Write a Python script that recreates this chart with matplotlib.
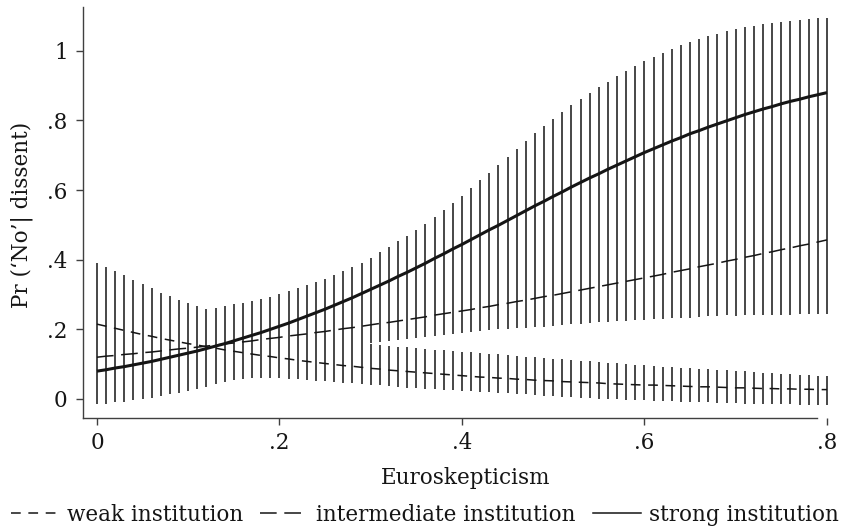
import numpy as np
import matplotlib
matplotlib.use("Agg")
import matplotlib.pyplot as plt
from matplotlib.lines import Line2D

# euroskepticism grid (81 evaluation points, step .01)
euro = np.round(np.arange(81) * 0.01, 2)

# predicted Pr('No' | dissent)
strong = [0.080, 0.084, 0.089, 0.093, 0.098, 0.103, 0.108, 0.114, 0.120, 0.126,
          0.132, 0.138, 0.145, 0.152, 0.159, 0.167, 0.175, 0.183, 0.191, 0.200,
          0.209, 0.218, 0.228, 0.238, 0.248, 0.258, 0.269, 0.280, 0.291, 0.303,
          0.315, 0.327, 0.339, 0.352, 0.364, 0.377, 0.390, 0.404, 0.417, 0.431,
          0.444, 0.458, 0.472, 0.486, 0.499, 0.513, 0.527, 0.541, 0.555, 0.568,
          0.582, 0.595, 0.609, 0.622, 0.635, 0.647, 0.660, 0.672, 0.684, 0.696,
          0.708, 0.719, 0.730, 0.741, 0.751, 0.762, 0.771, 0.781, 0.790, 0.799,
          0.808, 0.817, 0.825, 0.833, 0.840, 0.848, 0.855, 0.861, 0.868, 0.874,
          0.880]

intermediate = [0.120, 0.123, 0.125, 0.128, 0.130, 0.133, 0.135, 0.138, 0.141, 0.144,
                0.146, 0.149, 0.152, 0.155, 0.158, 0.161, 0.164, 0.167, 0.171, 0.174,
                0.177, 0.181, 0.184, 0.187, 0.191, 0.194, 0.198, 0.202, 0.205, 0.209,
                0.213, 0.217, 0.220, 0.224, 0.228, 0.232, 0.236, 0.241, 0.245, 0.249,
                0.253, 0.257, 0.262, 0.266, 0.271, 0.275, 0.280, 0.284, 0.289, 0.294,
                0.298, 0.303, 0.308, 0.313, 0.318, 0.323, 0.328, 0.333, 0.338, 0.343,
                0.348, 0.353, 0.358, 0.364, 0.369, 0.374, 0.380, 0.385, 0.390, 0.396,
                0.401, 0.407, 0.412, 0.418, 0.423, 0.429, 0.434, 0.440, 0.445, 0.451,
                0.457]

weak = [0.215, 0.209, 0.203, 0.197, 0.191, 0.185, 0.180, 0.174, 0.169, 0.164,
        0.159, 0.155, 0.150, 0.146, 0.141, 0.137, 0.133, 0.129, 0.125, 0.122,
        0.118, 0.115, 0.111, 0.108, 0.105, 0.102, 0.099, 0.096, 0.094, 0.091,
        0.088, 0.086, 0.083, 0.081, 0.079, 0.077, 0.075, 0.073, 0.071, 0.069,
        0.067, 0.065, 0.063, 0.062, 0.060, 0.059, 0.057, 0.056, 0.054, 0.053,
        0.052, 0.050, 0.049, 0.048, 0.047, 0.046, 0.044, 0.043, 0.042, 0.041,
        0.040, 0.040, 0.039, 0.038, 0.037, 0.036, 0.035, 0.035, 0.034, 0.033,
        0.032, 0.032, 0.031, 0.030, 0.030, 0.029, 0.029, 0.028, 0.028, 0.027,
        0.027]

# confidence intervals
strong_hw = [.095, .097, .099, .101, .102, .104, .105, .106, .107, .108,
             .109, .110, .110, .110, .108, .105, .102, .099, .096, .094,
             .092, .091, .090, .089, .088, .087, .087, .087, .088, .089,
             .091, .094, .098, .101, .105, .109, .114, .120, .126, .133,
             .140, .148, .156, .164, .173, .182, .191, .200, .208, .216,
             .223, .229, .235, .240, .244, .248, .251, .255, .258, .260,
             .262, .264, .265, .265, .265, .264, .263, .261, .259, .257,
             .254, .251, .247, .244, .240, .236, .232, .228, .224, .219,
             .215]

intermediate_hw = [.060, .060, .060, .059, .059, .059, .059, .058, .058, .058,
                   .058, .057, .057, .057, .056, .056, .056, .056, .055, .055,
                   .055, .055, .054, .054, .054, .054, .054, .053, .053, .053,
                   .053, .053, .054, .055, .056, .057, .058, .059, .060, .062,
                   .063, .065, .067, .069, .071, .074, .077, .080, .083, .086,
                   .089, .091, .094, .097, .100, .103, .106, .109, .113, .116,
                   .120, .124, .128, .132, .136, .140, .144, .148, .152, .156,
                   .162, .167, .172, .177, .182, .187, .192, .197, .202, .207,
                   .212]

weak_hi = [.390, .378, .367, .356, .343, .331, .318, .305, .295, .285,
           .276, .267, .259, .251, .243, .235, .228, .221, .214, .208,
           .202, .196, .191, .186, .181, .177, .173, .169, .165, .162,
           .158, .155, .153, .150, .148, .146, .144, .142, .140, .138,
           .136, .134, .132, .130, .128, .126, .124, .122, .120, .118,
           .116, .114, .112, .110, .108, .106, .104, .102, .100, .099,
           .097, .095, .093, .092, .090, .088, .087, .085, .084, .082,
           .081, .079, .078, .076, .075, .073, .072, .070, .069, .067,
           .066]

weak_lo = [.040, .040, .041, .041, .042, .042, .043, .043, .043, .044,
           .044, .044, .045, .045, .050, .055, .058, .059, .060, .060,
           .059, .058, .057, .055, .053, .051, .049, .047, .045, .043,
           .041, .039, .037, .035, .033, .031, .030, .028, .027, .025,
           .024, .022, .021, .019, .018, .016, .015, .013, .012, .010,
           .009, .007, .006, .004, .003, .001, .000, -.001, -.002, -.003,
           -.004, -.005, -.006, -.007, -.008, -.009, -.010, -.010, -.011, -.012,
           -.012, -.013, -.013, -.014, -.014, -.015, -.015, -.016, -.016, -.017,
           -.017]

xticks = [0, 0.2, 0.4, 0.6, 0.8]
xticklabels = ["0", ".2", ".4", ".6", ".8"]
yticks = [0, 0.2, 0.4, 0.6, 0.8, 1.0]
yticklabels = ["0", ".2", ".4", ".6", ".8", "1"]

plt.rcParams["font.family"] = "DejaVu Serif"
plt.rcParams["lines.scale_dashes"] = False

W, H = 845, 529
fs = 15.5
fig = plt.figure(figsize=(W / 100, H / 100), dpi=100)
ax = fig.add_axes([83 / W, (H - 418) / H, (836 - 83) / W, (418 - 7) / H])

ink = "#151515"

strong = np.array(strong)
intermediate = np.array(intermediate)
s_lo, s_hi = strong - np.array(strong_hw), strong + np.array(strong_hw)
i_lo, i_hi = intermediate - np.array(intermediate_hw), intermediate + np.array(intermediate_hw)

# the three sets of spikes overlap; merge them so joins don't show seams
seg_x, seg_lo, seg_hi = [], [], []
for k, x in enumerate(euro):
    spans = sorted([(weak_lo[k], weak_hi[k]), (i_lo[k], i_hi[k]), (s_lo[k], s_hi[k])])
    cur_lo, cur_hi = spans[0]
    for lo, hi in spans[1:]:
        if lo <= cur_hi:
            cur_hi = max(cur_hi, hi)
        else:
            seg_x.append(x); seg_lo.append(cur_lo); seg_hi.append(cur_hi)
            cur_lo, cur_hi = lo, hi
    seg_x.append(x); seg_lo.append(cur_lo); seg_hi.append(cur_hi)

ax.vlines(seg_x, seg_lo, seg_hi, color=ink, lw=1.1)

weak_style = (0, (7.0, 5.5))
inter_style = (0, (12.0, 5.5))

ax.plot(euro, weak, color=ink, lw=1.1, linestyle=weak_style)
ax.plot(euro, intermediate, color=ink, lw=1.1, linestyle=inter_style)
ax.plot(euro, strong, color=ink, lw=2.2, solid_capstyle="butt")

ax.set_xlim(-0.0153, 0.8099)
ax.set_ylim(-0.0546, 1.126)

for side in ["top", "right"]:
    ax.spines[side].set_visible(False)
for side in ["left", "bottom"]:
    ax.spines[side].set_color("0.25")
    ax.spines[side].set_linewidth(1.0)
ax.spines["bottom"].set_bounds(-0.0153, 0.789)

ax.set_xticks(xticks, xticklabels)
ax.set_yticks(yticks, yticklabels)
ax.tick_params(axis="both", length=5, width=1.0, color="0.25",
               labelsize=fs, labelcolor=ink)
ax.tick_params(axis="y", pad=6)
ax.tick_params(axis="x", pad=5)

fig.text(466 / W, 1 - 478 / H, "Euroskepticism", ha="center", va="center",
         fontsize=fs, color=ink)
fig.text(22 / W, 1 - 215 / H, "Pr (\u2018No\u2019| dissent)", ha="center",
         va="center", rotation=90, fontsize=fs, color=ink)

handles = [
    Line2D([], [], color=ink, lw=1.1, linestyle=weak_style),
    Line2D([], [], color=ink, lw=1.1, linestyle=inter_style),
    Line2D([], [], color=ink, lw=1.1),
]
labels = ["weak institution", "intermediate institution", "strong institution"]
fig.legend(handles, labels, loc="center", bbox_to_anchor=(425 / W, 1 - 515 / H),
           ncol=3, frameon=False, fontsize=fs, handlelength=2.2,
           handletextpad=0.4, columnspacing=0.8, labelcolor=ink)

fig.savefig("out.png", dpi=100)
